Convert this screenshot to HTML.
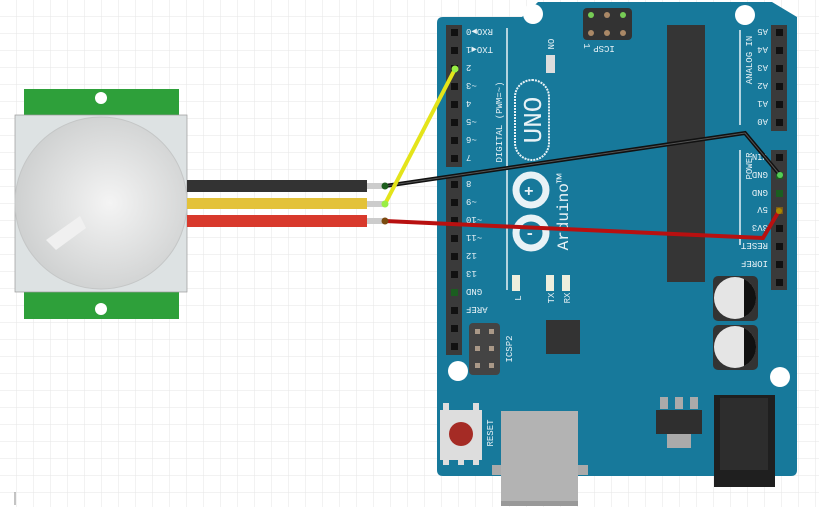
<!DOCTYPE html>
<html><head><meta charset="utf-8"><style>
html,body{margin:0;padding:0;background:#fff}
svg{display:block}
text{font-family:"Liberation Mono",monospace;fill:#e8f2f6}
.p{text-anchor:middle}
.l{text-anchor:end}
</style></head><body>
<svg width="819" height="507" viewBox="0 0 819 507" xmlns="http://www.w3.org/2000/svg">
<defs>
<pattern id="g" width="17" height="17" patternUnits="userSpaceOnUse"><path d="M17 0V17H0" fill="none" stroke="#e6e6e6" stroke-width="1"/></pattern>
<radialGradient id="dome" cx="0.55" cy="0.5" r="0.6"><stop offset="0" stop-color="#f4f4f4"/><stop offset="1" stop-color="#cbcdcd"/></radialGradient>
</defs>
<rect width="819" height="507" fill="#fff"/>
<rect width="819" height="507" fill="url(#g)"/>
<rect x="24" y="89" width="155" height="27" fill="#2ea03a"/>
<rect x="24" y="292" width="155" height="27" fill="#2ea03a"/>
<circle cx="101" cy="98" r="6" fill="#fff"/>
<circle cx="101" cy="309" r="6" fill="#fff"/>
<rect x="15" y="115" width="172" height="177" fill="#dde2e3" stroke="#999" stroke-width="0.7"/>
<circle cx="101" cy="203" r="86" fill="url(#dome)" stroke="#c4c6c6"/>
<polygon points="46,240 80,216 86,228 56,250" fill="#f0f0f0"/>
<rect x="187" y="180" width="180" height="12" fill="#333"/>
<rect x="187" y="198" width="180" height="11" fill="#e3c23a"/>
<rect x="187" y="215" width="180" height="12" fill="#d8392c"/>
<rect x="367" y="183" width="18" height="6" fill="#ccc"/>
<rect x="367" y="201" width="18" height="6" fill="#ccc"/>
<rect x="367" y="218" width="18" height="6" fill="#ccc"/>
<path d="M443 17 H522 L538 2 H772 L797 17 V470 Q797 476 791 476 H443 Q437 476 437 470 V23 Q437 17 443 17Z" fill="#17799b"/>
<circle cx="533" cy="14" r="10" fill="#fff"/>
<circle cx="745" cy="15" r="10" fill="#fff"/>
<circle cx="458" cy="371" r="10" fill="#fff"/>
<circle cx="780" cy="377" r="10" fill="#fff"/>
<rect x="446" y="25" width="16" height="142" fill="#3a3a3a"/>
<rect x="446" y="177" width="16" height="178" fill="#3a3a3a"/>
<g fill="#111">
<rect x="451" y="29" width="7" height="7"/><rect x="451" y="47" width="7" height="7"/><rect x="451" y="65" width="7" height="7"/><rect x="451" y="83" width="7" height="7"/><rect x="451" y="101" width="7" height="7"/><rect x="451" y="119" width="7" height="7"/><rect x="451" y="137" width="7" height="7"/><rect x="451" y="155" width="7" height="7"/>
<rect x="451" y="181" width="7" height="7"/><rect x="451" y="199" width="7" height="7"/><rect x="451" y="217" width="7" height="7"/><rect x="451" y="235" width="7" height="7"/><rect x="451" y="253" width="7" height="7"/><rect x="451" y="271" width="7" height="7"/><rect x="451" y="289" width="7" height="7" fill="#1b5e20"/><rect x="451" y="307" width="7" height="7"/><rect x="451" y="325" width="7" height="7"/><rect x="451" y="343" width="7" height="7"/>
</g>
<rect x="771" y="25" width="16" height="106" fill="#3a3a3a"/>
<rect x="771" y="150" width="16" height="140" fill="#3a3a3a"/>
<g fill="#111">
<rect x="776" y="29" width="7" height="7"/><rect x="776" y="47" width="7" height="7"/><rect x="776" y="65" width="7" height="7"/><rect x="776" y="83" width="7" height="7"/><rect x="776" y="101" width="7" height="7"/><rect x="776" y="119" width="7" height="7"/>
<rect x="776" y="154" width="7" height="7"/><rect x="776" y="172" width="7" height="7" fill="#1b5e20"/><rect x="776" y="190" width="7" height="7" fill="#1b5e20"/><rect x="776" y="207" width="7" height="7" fill="#7a5a1a"/><rect x="776" y="225" width="7" height="7"/><rect x="776" y="243" width="7" height="7"/><rect x="776" y="261" width="7" height="7"/><rect x="776" y="279" width="7" height="7"/>
</g>
<line x1="507" y1="28" x2="507" y2="290" stroke="#e8f2f6" stroke-width="1.5"/>
<line x1="740" y1="30" x2="740" y2="125" stroke="#e8f2f6" stroke-width="1.5"/>
<line x1="740" y1="150" x2="740" y2="245" stroke="#e8f2f6" stroke-width="1.5"/>
<g font-size="9">
<text class="l" transform="translate(466,29) rotate(180)">RXO▶0</text>
<text class="l" transform="translate(466,47) rotate(180)">TXO◀1</text>
<text class="l" transform="translate(466,65) rotate(180)">2</text>
<text class="l" transform="translate(466,83) rotate(180)">~3</text>
<text class="l" transform="translate(466,101) rotate(180)">4</text>
<text class="l" transform="translate(466,119) rotate(180)">~5</text>
<text class="l" transform="translate(466,137) rotate(180)">~6</text>
<text class="l" transform="translate(466,155) rotate(180)">7</text>
<text class="l" transform="translate(466,181) rotate(180)">8</text>
<text class="l" transform="translate(466,199) rotate(180)">~9</text>
<text class="l" transform="translate(466,217) rotate(180)">~10</text>
<text class="l" transform="translate(466,235) rotate(180)">~11</text>
<text class="l" transform="translate(466,253) rotate(180)">12</text>
<text class="l" transform="translate(466,271) rotate(180)">13</text>
<text class="l" transform="translate(466,289) rotate(180)">GND</text>
<text class="l" transform="translate(466,307) rotate(180)">AREF</text>
<text transform="translate(768,29) rotate(180)">A5</text>
<text transform="translate(768,47) rotate(180)">A4</text>
<text transform="translate(768,65) rotate(180)">A3</text>
<text transform="translate(768,83) rotate(180)">A2</text>
<text transform="translate(768,101) rotate(180)">A1</text>
<text transform="translate(768,119) rotate(180)">A0</text>
<text transform="translate(768,154) rotate(180)">VIN</text>
<text transform="translate(768,172) rotate(180)">GND</text>
<text transform="translate(768,190) rotate(180)">GND</text>
<text transform="translate(768,207) rotate(180)">5V</text>
<text transform="translate(768,225) rotate(180)">3V3</text>
<text transform="translate(768,243) rotate(180)">RESET</text>
<text transform="translate(768,261) rotate(180)">IOREF</text>
<text class="p" transform="translate(502,122) rotate(-90)">DIGITAL (PWM=~)</text>
<text class="p" transform="translate(548,44) rotate(90)">ON</text>
<text class="p" transform="translate(584,46) rotate(90)">1</text>
<text class="p" transform="translate(604,46) rotate(180)">ICSP</text>
<text class="p" transform="translate(512,349) rotate(-90)">ICSP2</text>
<text class="p" transform="translate(493,433) rotate(-90)">RESET</text>
<text class="p" transform="translate(521,298) rotate(-90)">L</text>
<text class="p" transform="translate(554,298) rotate(-90)">TX</text>
<text class="p" transform="translate(570,298) rotate(-90)">RX</text>
<text class="p" transform="translate(752,60) rotate(-90)">ANALOG IN</text>
<text class="p" transform="translate(752,166) rotate(-90)">POWER</text>
</g>
<rect x="515" y="80" width="34" height="80" rx="17" fill="none" stroke="#e8f2f6" stroke-width="2" stroke-dasharray="2 1"/>
<text class="p" transform="translate(541,120) rotate(-90)" font-size="26" font-family="Liberation Sans,sans-serif">UNO</text>
<circle cx="531" cy="190" r="15" fill="none" stroke="#e8f2f6" stroke-width="7"/>
<circle cx="531" cy="233" r="15" fill="none" stroke="#e8f2f6" stroke-width="7"/>
<text x="524" y="196" font-size="16" font-family="Liberation Sans,sans-serif" font-weight="bold">+</text>
<text x="525" y="238" font-size="16" font-family="Liberation Sans,sans-serif" font-weight="bold">-</text>
<text class="p" transform="translate(568,212) rotate(-90)" font-size="16" font-family="Liberation Sans,sans-serif">Arduino™</text>
<rect x="583" y="8" width="49" height="32" rx="4" fill="#333"/>
<circle cx="591" cy="15" r="3" fill="#7c5"/><circle cx="607" cy="15" r="3" fill="#a86"/><circle cx="623" cy="15" r="3" fill="#7c5"/>
<circle cx="591" cy="33" r="3" fill="#a86"/><circle cx="607" cy="33" r="3" fill="#a86"/><circle cx="623" cy="33" r="3" fill="#a86"/>
<rect x="546" y="55" width="9" height="18" fill="#ddd"/>
<rect x="667" y="25" width="38" height="257" fill="#353535"/>
<rect x="469" y="323" width="31" height="52" rx="4" fill="#444"/>
<g fill="#a98"><rect x="475" y="329" width="5" height="5"/><rect x="489" y="329" width="5" height="5"/><rect x="475" y="346" width="5" height="5"/><rect x="489" y="346" width="5" height="5"/><rect x="475" y="363" width="5" height="5"/><rect x="489" y="363" width="5" height="5"/></g>
<rect x="512" y="275" width="8" height="16" fill="#eed"/><rect x="546" y="275" width="8" height="16" fill="#eed"/><rect x="562" y="275" width="8" height="16" fill="#eed"/>
<rect x="546" y="320" width="34" height="34" fill="#333"/>
<rect x="713" y="276" width="45" height="45" rx="5" fill="#333"/><circle cx="735" cy="298" r="21" fill="#e5e5e5"/><path d="M744 279 A21 21 0 0 1 744 317Z" fill="#111"/>
<rect x="713" y="325" width="45" height="45" rx="5" fill="#333"/><circle cx="735" cy="347" r="21" fill="#e5e5e5"/><path d="M744 328 A21 21 0 0 1 744 366Z" fill="#111"/>
<rect x="660" y="397" width="8" height="12" fill="#aaa"/><rect x="675" y="397" width="8" height="12" fill="#aaa"/><rect x="690" y="397" width="8" height="12" fill="#aaa"/>
<rect x="656" y="410" width="46" height="24" fill="#2f2f2f"/><rect x="667" y="434" width="24" height="14" fill="#aaa"/>
<rect x="714" y="395" width="61" height="92" fill="#1f1f1f"/><rect x="720" y="398" width="48" height="72" fill="#2d2d2d"/>
<rect x="492" y="465" width="96" height="10" fill="#aaa"/>
<rect x="501" y="411" width="77" height="94" fill="#b3b3b3"/><rect x="501" y="501" width="77" height="5" fill="#999"/>
<rect x="440" y="410" width="42" height="50" fill="#ddd"/>
<g fill="#ddd"><rect x="443" y="403" width="6" height="8"/><rect x="473" y="403" width="6" height="8"/><rect x="443" y="458" width="6" height="7"/><rect x="458" y="458" width="6" height="7"/><rect x="473" y="458" width="6" height="7"/></g>
<circle cx="461" cy="434" r="12" fill="#a52b25"/>
<polyline points="385,186 745,133 780,175" fill="none" stroke="#111" stroke-width="4"/>
<polyline points="385,186 745,133 780,175" fill="none" stroke="#555" stroke-width="1"/>
<polyline points="385,221 763,238 779,211" fill="none" stroke="#b81010" stroke-width="4"/>
<line x1="385" y1="204" x2="455" y2="69" stroke="#e4e41a" stroke-width="4"/>
<circle cx="385" cy="186" r="3.5" fill="#1d5e1d"/>
<circle cx="385" cy="204" r="3.5" fill="#9e4"/>
<circle cx="385" cy="221" r="3.5" fill="#7a4a10"/>
<circle cx="455" cy="69" r="3.5" fill="#9e4"/>
<circle cx="780" cy="175" r="3" fill="#5c5"/>
<circle cx="779" cy="211" r="3" fill="#a80"/>
<line x1="15" y1="492" x2="15" y2="505" stroke="#888"/>
</svg>
</body></html>
